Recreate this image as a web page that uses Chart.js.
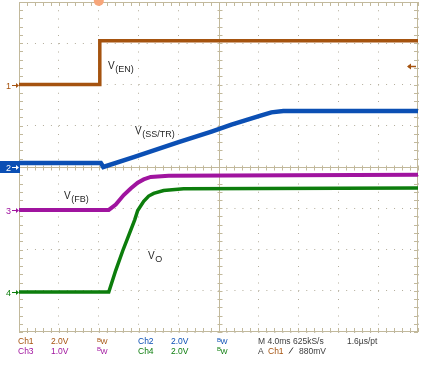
<!DOCTYPE html>
<html>
<head>
<meta charset="utf-8">
<script src="https://cdn.jsdelivr.net/npm/chart.js@4.4.0/dist/chart.umd.min.js"></script>
<style>
  html, body { margin: 0; padding: 0; background: #fff; }
  canvas { display: block; }
</style>
</head>
<body>
<canvas id="scope" width="422" height="365"></canvas>
<script>
const channelNames = ['Ch1', 'Ch2', 'Ch3', 'Ch4'];
const voltsPerDiv = [2.0, 2.0, 1.0, 2.0];
const offsetDiv = [2.0, 0, -1.04, -3.03];   // posizione del marker di ogni canale

const enTime = [-8, 0.05, 0.1, 32];
const enVolts = [0, 0, 2.12, 2.12];

const ssTime = [-8, 0.2, 0.45, 3.5, 8, 11.3, 13.3, 16.3, 17.3, 18.5, 32];
const ssVolts = [0.2, 0.2, 0, 0.48, 1.21, 1.72, 2.05, 2.5, 2.65, 2.71, 2.72];

const fbTime = [-8, 1.0, 1.7, 2.5, 3.2, 3.9, 4.5, 5.2, 7, 32];
const fbVolts = [0, 0, 0.13, 0.36, 0.52, 0.66, 0.74, 0.8, 0.83, 0.85];

const voTime = [-8, 1.0, 1.7, 2.4, 3.0, 3.6, 3.9, 4.5, 5.0, 5.5, 6.5, 8.5, 32];
const voVolts = [0, 0, 1.05, 2.0, 2.75, 3.5, 3.95, 4.4, 4.65, 4.78, 4.92, 5.0, 5.04];

const timeRange = [-8, 32];   // 10 divisioni da 4 ms
const msPerDiv = 4;
const triggerLevel = 0.88;    // V su Ch1

const readoutRow1 = ['Ch1', '2.0V', 'Ch2', '2.0V', 'M 4.0ms 625kS/s', '1.6\u00b5s/pt'];
const readoutRow2 = ['Ch3', '1.0V', 'Ch4', '2.0V', 'A', 'Ch1', '880mV'];

/* Colori */
const colors = ['#a5530f', '#0b4fb4', '#a0149f', '#0c7d0c'];
const GRID = '#b3ad9b';
const FRAME = '#c2b99c';
const FONT = "'Liberation Sans', Arial, sans-serif";

const toPoints = (times, volts, ch) =>
  times.map((t, i) => ({ x: t, y: offsetDiv[ch] + volts[i] / voltsPerDiv[ch] }));

const traces = [
  toPoints(enTime, enVolts, 0),
  toPoints(ssTime, ssVolts, 1),
  toPoints(fbTime, fbVolts, 2),
  toPoints(voTime, voVolts, 3)
];
const traceWidths = [3.5, 4.5, 4, 3.5];

const centerTime = (timeRange[0] + timeRange[1]) / 2;

/* Etichette delle tracce (posizione in ms / divisioni) */
const traceLabels = [
  { sub: '(EN)', t: 0.92, div: 2.38 },
  { sub: '(SS/TR)', t: 3.63, div: 0.8 },
  { sub: '(FB)', t: -3.49, div: -0.776 },
  { sub: 'O', t: 4.93, div: -2.23 }
];

const scopeFrame = {
  id: 'scopeFrame',
  beforeDraw(chart) {
    const c = chart.ctx;
    c.save();
    c.fillStyle = '#fff';
    c.fillRect(0, 0, chart.width, chart.height);
    c.restore();
  },
  beforeDatasetsDraw(chart) {
    const { ctx: c, chartArea: a, scales: { x, y } } = chart;
    c.save();
    c.strokeStyle = FRAME;
    c.lineWidth = 1;
    c.strokeRect(a.left + 0.5, a.top + 0.5, a.right - a.left - 1, a.bottom - a.top - 1);
    const cx = Math.round(x.getPixelForValue(centerTime)) + 0.5;
    const cy = Math.round(y.getPixelForValue(0)) + 0.5;
    c.beginPath();
    c.moveTo(a.left, cy); c.lineTo(a.right, cy);
    c.moveTo(cx, a.top); c.lineTo(cx, a.bottom);
    // tacche minori: 5 per divisione
    for (let k = 0; k <= 50; k++) {
      const px = Math.round(x.getPixelForValue(timeRange[0] + k * msPerDiv / 5)) + 0.5;
      c.moveTo(px, a.top); c.lineTo(px, a.top + 4);
      c.moveTo(px, a.bottom); c.lineTo(px, a.bottom - 4);
      c.moveTo(px, cy - 2); c.lineTo(px, cy + 3);
    }
    for (let k = 0; k <= 40; k++) {
      const py = Math.round(y.getPixelForValue(-4 + k * 0.2)) + 0.5;
      c.moveTo(a.left, py); c.lineTo(a.left + 4, py);
      c.moveTo(a.right, py); c.lineTo(a.right - 4, py);
      c.moveTo(cx - 2, py); c.lineTo(cx + 3, py);
    }
    c.stroke();
    c.restore();
  },
  afterDraw(chart) {
    const { ctx: c, chartArea: a, scales: { x, y } } = chart;
    c.save();
    c.textBaseline = 'alphabetic';

    // etichette V(...)
    c.fillStyle = '#262626';
    traceLabels.forEach(l => {
      const px = x.getPixelForValue(l.t);
      const py = y.getPixelForValue(l.div);
      c.font = '10px ' + FONT;
      c.fillText('V', px, py);
      const w = c.measureText('V').width;
      c.font = '9px ' + FONT;
      c.fillText(l.sub, px + w + 0.5, py + 3);
    });

    // marker dei canali a sinistra
    channelNames.forEach((name, i) => {
      const py = Math.round(y.getPixelForValue(offsetDiv[i]));
      const fg = i === 1 ? '#fff' : colors[i];
      if (i === 1) {
        c.fillStyle = colors[1];
        c.fillRect(0, py - 6, a.left + 1, 12);
      }
      c.fillStyle = fg;
      c.strokeStyle = fg;
      c.font = '9px ' + FONT;
      c.textAlign = 'right';
      c.fillText(String(i + 1), 11, py + 3.5);
      c.textAlign = 'left';
      c.lineWidth = 1;
      c.beginPath();
      c.moveTo(12, py + 0.5); c.lineTo(a.left - 1, py + 0.5);
      c.stroke();
      c.beginPath();
      c.moveTo(a.left, py + 0.5); c.lineTo(a.left - 3, py - 2); c.lineTo(a.left - 3, py + 3);
      c.closePath(); c.fill();
    });

    // trigger: posizione (cerchio) e livello (freccia)
    const tx = x.getPixelForValue(0);
    c.fillStyle = '#f7a67a';
    c.beginPath(); c.arc(tx, a.top - 1, 5, 0, Math.PI * 2); c.fill();
    const ty = Math.round(y.getPixelForValue(offsetDiv[0] + triggerLevel / voltsPerDiv[0])) + 0.5;
    c.strokeStyle = colors[0]; c.fillStyle = colors[0]; c.lineWidth = 1.5;
    c.beginPath(); c.moveTo(a.right - 10, ty); c.lineTo(a.right - 2, ty); c.stroke();
    c.beginPath(); c.moveTo(a.right - 11, ty); c.lineTo(a.right - 7, ty - 3); c.lineTo(a.right - 7, ty + 3);
    c.closePath(); c.fill();

    // riquadro di lettura in basso
    const row1 = a.bottom + 12, row2 = a.bottom + 21.5;
    const bw = (px, py, col) => {
      c.fillStyle = col;
      c.font = '6px ' + FONT; c.fillText('B', px, py - 2.5);
      c.font = '7.5px ' + FONT; c.fillText('W', px + 3.5, py);
    };
    const txt = (s, px, py, col) => { c.fillStyle = col; c.font = '8.5px ' + FONT; c.fillText(s, px, py); };
    const grey = '#3c3c3c';
    txt(readoutRow1[0], 18, row1, colors[0]);
    txt(readoutRow1[1], 51, row1, colors[0]);
    bw(97, row1, colors[0]);
    txt(readoutRow1[2], 138, row1, colors[1]);
    txt(readoutRow1[3], 171, row1, colors[1]);
    bw(217, row1, colors[1]);
    txt(readoutRow1[4], 258, row1, grey);
    txt(readoutRow1[5], 347, row1, grey);
    txt(readoutRow2[0], 18, row2, colors[2]);
    txt(readoutRow2[1], 51, row2, colors[2]);
    bw(97, row2, colors[2]);
    txt(readoutRow2[2], 138, row2, colors[3]);
    txt(readoutRow2[3], 171, row2, colors[3]);
    bw(217, row2, colors[3]);
    txt(readoutRow2[4], 258, row2, grey);
    txt(readoutRow2[5], 268, row2, colors[0]);
    c.strokeStyle = grey; c.lineWidth = 1;
    c.beginPath(); c.moveTo(289, row2); c.lineTo(293, row2 - 6); c.stroke();
    txt(readoutRow2[6], 299, row2, grey);
    c.restore();
  }
};

new Chart(document.getElementById('scope'), {
  type: 'scatter',
  data: {
    datasets: traces.map((pts, i) => ({
      label: channelNames[i],
      data: pts,
      showLine: true,
      borderColor: colors[i],
      borderWidth: traceWidths[i],
      pointRadius: 0,
      tension: 0
    }))
  },
  options: {
    responsive: false,
    animation: false,
    layout: { padding: { left: 19, top: 2, right: 4, bottom: 33 } },
    plugins: { legend: { display: false }, tooltip: { enabled: false } },
    scales: {
      x: {
        type: 'linear',
        min: timeRange[0],
        max: timeRange[1],
        ticks: { display: false, stepSize: msPerDiv },
        grid: {
          color: ctx => (ctx.tick && ctx.tick.value === centerTime) ? 'rgba(0,0,0,0)' : GRID,
          drawTicks: false
        },
        border: { display: false, dash: [1, 7.25] }
      },
      y: {
        type: 'linear',
        min: -4,
        max: 4,
        ticks: { display: false, stepSize: 1 },
        grid: {
          color: ctx => (ctx.tick && ctx.tick.value === 0) ? 'rgba(0,0,0,0)' : GRID,
          drawTicks: false
        },
        border: { display: false, dash: [1, 6.98] }
      }
    }
  },
  plugins: [scopeFrame]
});
</script>
</body>
</html>
